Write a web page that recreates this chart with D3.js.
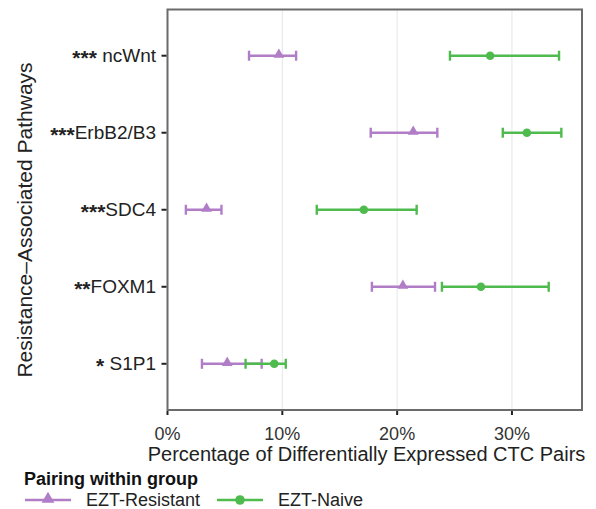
<!DOCTYPE html>
<html><head><meta charset="utf-8">
<script src="https://cdn.jsdelivr.net/npm/d3@7"></script>
<style>body{margin:0;background:#fff;} text{font-family:"Liberation Sans",Arial,sans-serif;}</style>
</head><body><svg id="c" width="596" height="509"></svg>
<script>
const pathways = ["*** ncWnt","***ErbB2/B3","***SDC4","**FOXM1","* S1P1"];
const groups = ["EZT-Resistant","EZT-Naive"];
const resistantMid = [9.7, 21.4, 3.4, 20.5, 5.2];
const resistantLo  = [7.1, 17.7, 1.6, 17.8, 3.0];
const resistantHi  = [11.2, 23.5, 4.7, 23.3, 8.2];
const naiveMid = [28.1, 31.3, 17.1, 27.3, 9.3];
const naiveLo  = [24.6, 29.2, 13.0, 23.9, 6.8];
const naiveHi  = [34.1, 34.3, 21.7, 33.2, 10.3];
const xTicks = [0, 10, 20, 30];
const colors = {"EZT-Resistant":"#b17dc7","EZT-Naive":"#4fbb4f"};

const svg = d3.select("#c");
const L=167.5, R=582, T=9.5, B=410;
const x = d3.scaleLinear().domain([0, 36.1]).range([L, R]);
const y = d3.scalePoint().domain(pathways).range([T, B]).padding(0.6);

// grid
svg.append("g").selectAll("line").data(xTicks.filter(d=>d>0)).join("line")
  .attr("x1",d=>x(d)).attr("x2",d=>x(d)).attr("y1",T).attr("y2",B)
  .attr("stroke","#e4e6ea").attr("stroke-width",1);

const series = [
  {g:"EZT-Resistant", mid:resistantMid, lo:resistantLo, hi:resistantHi},
  {g:"EZT-Naive", mid:naiveMid, lo:naiveLo, hi:naiveHi}
];
series.forEach(s=>{
  const c = colors[s.g];
  const gg = svg.append("g");
  pathways.forEach((p,i)=>{
    const yy = y(p);
    gg.append("line").attr("x1",x(s.lo[i])).attr("x2",x(s.hi[i])).attr("y1",yy).attr("y2",yy)
      .attr("stroke",c).attr("stroke-width",2.4);
    [s.lo[i], s.hi[i]].forEach(v=>{
      gg.append("line").attr("x1",x(v)).attr("x2",x(v)).attr("y1",yy-5).attr("y2",yy+5)
        .attr("stroke",c).attr("stroke-width",2.4);
    });
    if (s.g==="EZT-Resistant") {
      gg.append("path").attr("d", d3.symbol(d3.symbolTriangle, 50)())
        .attr("transform",`translate(${x(s.mid[i])},${yy-1})`).attr("fill",c);
    } else {
      gg.append("circle").attr("cx",x(s.mid[i])).attr("cy",yy).attr("r",4.3).attr("fill",c);
    }
  });
});

// panel border
svg.append("rect").attr("x",L).attr("y",T).attr("width",R-L).attr("height",B-T)
  .attr("fill","none").attr("stroke","#6b6b6b").attr("stroke-width",2);

// x axis
const xa = svg.append("g");
xTicks.forEach(t=>{
  xa.append("line").attr("x1",x(t)).attr("x2",x(t)).attr("y1",B+1).attr("y2",B+5).attr("stroke","#222").attr("stroke-width",2);
  xa.append("text").attr("x",x(t)).attr("y",440).attr("text-anchor","middle")
    .attr("font-size",18).attr("fill","#333").text(t+"%");
});
svg.append("text").attr("x",366.5).attr("y",461).attr("text-anchor","middle")
  .attr("font-size",20).attr("fill","#222").text("Percentage of Differentially Expressed CTC Pairs");

// y axis
const ya = svg.append("g");
pathways.forEach(p=>{
  ya.append("line").attr("x1",L-6).attr("x2",L-1).attr("y1",y(p)).attr("y2",y(p)).attr("stroke","#222").attr("stroke-width",2);
  const m = p.match(/^(\*+)(.*)$/);
  const t = ya.append("text").attr("x",156).attr("y",y(p)+6).attr("text-anchor","end")
    .attr("font-size",19).attr("fill","#222");
  t.append("tspan").attr("font-size",21).attr("font-weight","bold").attr("dy",3.5).text(m[1]);
  t.append("tspan").attr("dy",-3.5).text(m[2]);
});
svg.append("text").attr("transform","translate(32,220) rotate(-90)").attr("text-anchor","middle")
  .attr("font-size",21).attr("fill","#222").text("Resistance\u2013Associated Pathways");

// legend
svg.append("text").attr("x",24).attr("y",485).attr("font-size",18).attr("font-weight","bold").attr("fill","#111").text("Pairing within group");
const legX = [{x0:25,tx:86},{x0:217,tx:278}];
groups.forEach((g,i)=>{
  const c = colors[g], lx = legX[i].x0, ly = 500;
  svg.append("line").attr("x1",lx).attr("x2",lx+46).attr("y1",ly).attr("y2",ly).attr("stroke",c).attr("stroke-width",2.4);
  if (i===0) svg.append("path").attr("d", d3.symbol(d3.symbolTriangle, 70)()).attr("transform",`translate(${lx+23},${ly-1})`).attr("fill",c);
  else svg.append("circle").attr("cx",lx+23).attr("cy",ly).attr("r",4.8).attr("fill",c);
  svg.append("text").attr("x",legX[i].tx).attr("y",506).attr("font-size",18).attr("fill","#222").text(g);
});
</script></body></html>
